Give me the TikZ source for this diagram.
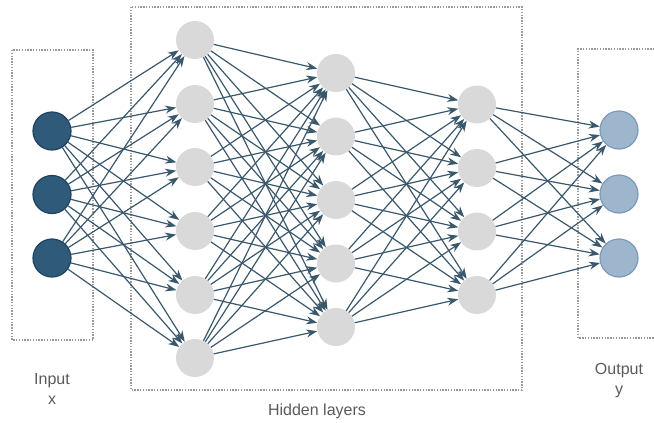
\documentclass[tikz,border=0pt]{standalone}
\usepackage{fontspec}
\setmainfont{Liberation Sans}
\usetikzlibrary{arrows.meta}
\definecolor{inpfill}{HTML}{2F5A7A}
\definecolor{inpline}{HTML}{1F4260}
\definecolor{hidfill}{HTML}{D9D9D9}
\definecolor{outfill}{HTML}{9DB5CD}
\definecolor{outline}{HTML}{7E9AB6}
\definecolor{edgecol}{HTML}{3A586C}
\definecolor{boxcol}{HTML}{9A9A9A}
\definecolor{labcol}{HTML}{5A5A5A}
\begin{document}
\begin{tikzpicture}[x=1pt,y=-1pt,
  neuron/.style={circle,minimum size=38pt,inner sep=0pt},
  inp/.style={neuron,fill=inpfill,draw=inpline,line width=1.2pt},
  hid/.style={neuron,fill=hidfill},
  outp/.style={neuron,fill=outfill,draw=outline,line width=1.2pt},
  edge/.style={draw=edgecol,line width=1.2pt,-{Stealth[length=11pt,width=8pt]}},
  groupbox/.style={draw=boxcol,line width=1.4pt,dash pattern=on 1.4pt off 1.4pt},
  lab/.style={text=labcol,font=\fontsize{16}{20}\selectfont,align=center}]
\useasboundingbox (0,0) rectangle (654,423);

% layer boxes
\draw[groupbox] (12,50) rectangle (93,340);
\draw[groupbox] (131,7) rectangle (522,390);
\draw[groupbox] (660,49) -- (578,49) -- (578,338) -- (660,338);

% neurons
\foreach \k/\y in {1/131,2/194.5,3/258}
  \node[inp] (i\k) at (52,\y) {};
\foreach \k/\y in {1/40,2/104,3/167,4/231,5/295,6/358}
  \node[hid] (a\k) at (195,\y) {};
\foreach \k/\y in {1/73,2/136.5,3/200,4/263.5,5/327}
  \node[hid] (b\k) at (336,\y) {};
\foreach \k/\y in {1/104.5,2/168,3/231.5,4/295}
  \node[hid] (c\k) at (477,\y) {};
\foreach \k/\y in {1/130,2/194,3/258}
  \node[outp] (o\k) at (619,\y) {};

% fully connected weights
\foreach \s in {1,...,3}
  \foreach \t in {1,...,6}
    \draw[edge] (i\s) -- (a\t);
\foreach \s in {1,...,6}
  \foreach \t in {1,...,5}
    \draw[edge] (a\s) -- (b\t);
\foreach \s in {1,...,5}
  \foreach \t in {1,...,4}
    \draw[edge] (b\s) -- (c\t);
\foreach \s in {1,...,4}
  \foreach \t in {1,...,3}
    \draw[edge] (c\s) -- (o\t);

% labels
\node[lab] (linput) at (52,389) {Input\\x};
\node[lab] (loutput) at (619,381) {Output\\y};
\node[lab] (lhidden) at (317,411) {Hidden layers};
\end{tikzpicture}
\end{document}
